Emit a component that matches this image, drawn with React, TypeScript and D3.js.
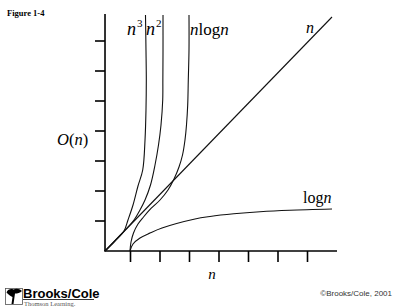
import React from "react";
import * as d3 from "d3";

// Data in axis units (x: first tick = 1, y: ticks at 1..7)
const xTicks = [1, 2, 3, 4, 5, 6, 7];
const yTicks = [1, 2, 3, 4, 5, 6, 7];
const ORIGIN_X = 0.136;
const X_END = 8;
const Y_END = 7.9;

const lineN: [number, number][] = [
  [0.136, 0],
  [7.83, 7.8],
];
const cubeN: [number, number][] = [
  [0.136, 0], [0.475, 0.333], [0.78, 0.667], [0.915, 1.033], [1.085, 1.533],
  [1.254, 2.167], [1.414, 2.7], [1.492, 3.7], [1.525, 4.7], [1.536, 5.7],
  [1.525, 6.7], [1.508, 7.87],
];
const squareN: [number, number][] = [
  [0.136, 0], [0.644, 0.517], [1.119, 1.033], [1.322, 1.367], [1.492, 1.7],
  [1.678, 2.2], [1.831, 2.867], [1.949, 3.533], [2.034, 4.2], [2.092, 5.033],
  [2.097, 5.7], [2.102, 6.7], [2.102, 7.867],
];
const nLogN: [number, number][] = [
  [0.983, 0], [1.017, 0.3], [1.102, 0.6], [1.254, 0.9], [1.441, 1.133],
  [1.695, 1.417], [2.0, 1.7], [2.271, 2.033], [2.475, 2.4], [2.644, 2.8],
  [2.763, 3.2], [2.847, 3.7], [2.898, 4.2], [2.939, 4.867], [2.959, 5.7],
  [2.983, 6.7], [2.983, 7.867],
];
const logN: [number, number][] = [
  [0.983, 0], [1.085, 0.233], [1.322, 0.433], [1.661, 0.6], [2.068, 0.767],
  [3.186, 1.067], [3.695, 1.15], [4.5, 1.24], [5.39, 1.31], [6.4, 1.36], [7.831, 1.4],
];

const SERIF = "'Liberation Serif', 'Times New Roman', serif";
const SANS = "'Liberation Sans', Arial, sans-serif";

export default function App() {
  const x = d3.scaleLinear().domain([0, 8]).range([101, 337]);
  const y = d3.scaleLinear().domain([0, 8]).range([251, 11]);
  const line = d3
    .line<[number, number]>()
    .x((d) => x(d[0]))
    .y((d) => y(d[1]))
    .curve(d3.curveCatmullRom.alpha(0.5));

  const curves = [lineN, cubeN, squareN, nLogN, logN];

  return (
    <svg
      width={400}
      height={308}
      style={{ position: "absolute", left: 0, top: 0, background: "#fff" }}
    >
      <rect x={0} y={0} width={400} height={308} fill="#fff" />
      <text x={7} y={16} fontFamily={SERIF} fontWeight="bold" fontSize={8.5} fill="#000">
        Figure 1-4
      </text>

      {/* axes */}
      <line x1={x(ORIGIN_X)} y1={y(0)} x2={x(ORIGIN_X)} y2={y(Y_END)} stroke="#000" strokeWidth={1.6} />
      <line x1={x(ORIGIN_X) - 0.8} y1={y(0)} x2={x(X_END)} y2={y(0)} stroke="#000" strokeWidth={1.6} />
      {yTicks.map((t) => (
        <line key={"yt" + t} x1={x(ORIGIN_X) - 10} x2={x(ORIGIN_X)} y1={y(t)} y2={y(t)} stroke="#000" strokeWidth={1.6} />
      ))}
      {xTicks.map((t) => (
        <line key={"xt" + t} x1={x(t)} x2={x(t)} y1={y(0)} y2={y(0) + 11} stroke="#000" strokeWidth={1.6} />
      ))}

      {/* curves */}
      {curves.map((c, i) => (
        <path key={i} d={line(c) || ""} fill="none" stroke="#111" strokeWidth={1.1} />
      ))}

      {/* labels */}
      <text x={127} y={35} fontFamily={SERIF} fontSize={18} fontStyle="italic">
        n<tspan fontStyle="normal" fontSize={11} dy={-8} dx={1}>3</tspan>
      </text>
      <text x={146} y={35} fontFamily={SERIF} fontSize={18} fontStyle="italic">
        n<tspan fontStyle="normal" fontSize={11} dy={-8} dx={1}>2</tspan>
      </text>
      <text x={190} y={35} fontFamily={SERIF} fontSize={17}>
        <tspan fontStyle="italic">n</tspan>log<tspan fontStyle="italic">n</tspan>
      </text>
      <text x={306} y={33} fontFamily={SERIF} fontSize={16} fontStyle="italic">n</text>
      <text x={303} y={203} fontFamily={SERIF} fontSize={16}>
        log<tspan fontStyle="italic">n</tspan>
      </text>
      <text x={57} y={145} fontFamily={SERIF} fontSize={16.5}>
        <tspan fontStyle="italic">O</tspan>(<tspan fontStyle="italic">n</tspan>)
      </text>
      <text x={212} y={279} textAnchor="middle" fontFamily={SERIF} fontSize={15} fontStyle="italic">n</text>

      {/* publisher logo */}
      <rect x={5.5} y={288.5} width={17} height={16} fill="none" stroke="#555" strokeWidth={0.8} />
      <path
        d="M6.5,292.5 C8,289 11,288.5 13.5,289.5 C16,288 19.5,288.5 22,291 C20,293 17.5,293.5 15,293.5 L14.5,297 L13.5,304 L11.5,304 L12.5,297 C10.5,296 8.5,295 6.5,292.5 Z"
        fill="#000"
      />
      <text x={23} y={298} fontFamily={SANS} fontWeight="bold" fontSize={13} fill="#000">
        Brooks/Cole
      </text>
      <line x1={23} x2={94} y1={299.5} y2={299.5} stroke="#000" strokeWidth={0.8} />
      <text x={24} y={305.5} fontFamily={SERIF} fontSize={6.5} fill="#555">
        Thomson Learning.
      </text>
      <text x={392} y={296} textAnchor="end" fontFamily={SANS} fontSize={8} fill="#333">
        ©Brooks/Cole, 2001
      </text>
    </svg>
  );
}
